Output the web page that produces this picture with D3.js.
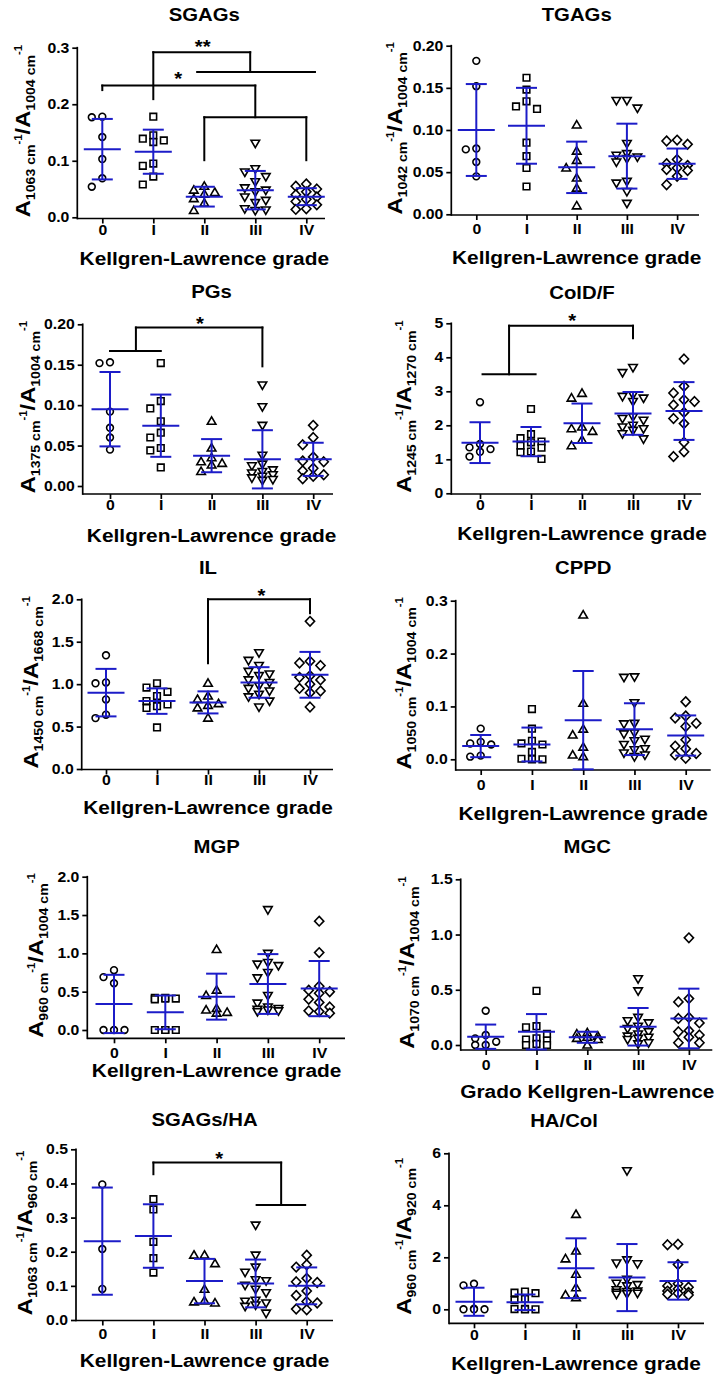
<!DOCTYPE html>
<html><head><meta charset="utf-8">
<script src="https://cdn.jsdelivr.net/npm/d3@7"></script>
<style>body{margin:0;background:#fff}svg{display:block}</style>
</head><body>
<svg id="c" width="728" height="1384"></svg>
<script>
// ---------------- DATA ----------------
const grades = ["0","I","II","III","IV"];
const xTitleEN = "Kellgren-Lawrence grade";
const xTitleES = "Grado Kellgren-Lawrence";

// SGAGs
const sgagsValues = [
  [0.178,0.177,0.142,0.103,0.069,0.054],
  [0.178,0.145,0.139,0.136,0.133,0.095,0.091,0.072,0.058],
  [0.055,0.048,0.044,0.041,0.033,0.025,0.012],
  [0.131,0.086,0.080,0.072,0.063,0.052,0.048,0.045,0.036,0.030,0.026,0.015,0.013,0.012],
  [0.059,0.055,0.050,0.045,0.040,0.036,0.032,0.028,0.022,0.015,0.014]
];
const sgagsMean = [0.1205,0.116,0.0365,0.048,0.0365];
const sgagsSD = [0.0535,0.039,0.0175,0.034,0.015];
const sgagsTicks = [0,0.1,0.2,0.3];
const sgagsTickLabels = ["0.0","0.1","0.2","0.3"];
const sgagsBrackets = [
  [1,0.292,2.9,0.292],[1,0.292,1,0.209],[2.9,0.292,2.9,0.257],[1.86,0.257,4.17,0.257],
  [0,0.233,3,0.233],[0,0.233,0,0.225],[3,0.233,3,0.177],[2,0.177,4,0.177],[2,0.177,2,0.101],[4,0.177,4,0.101]
];
const sgagsStars = [["**",1.97,0.309],["*",1.49,0.251]];

// TGAGs
const tgagsValues = [
  [0.182,0.152,0.078,0.077,0.062,0.045],
  [0.162,0.148,0.134,0.128,0.125,0.085,0.069,0.055,0.033],
  [0.106,0.075,0.064,0.055,0.043,0.031,0.010],
  [0.135,0.135,0.126,0.084,0.072,0.070,0.068,0.066,0.062,0.039,0.037,0.027,0.013],
  [0.088,0.087,0.083,0.065,0.060,0.058,0.055,0.053,0.052,0.045,0.035]
];
const tgagsMean = [0.100,0.105,0.0557,0.069,0.060];
const tgagsSD = [0.0545,0.045,0.0305,0.0385,0.018];
const tgagsTicks = [0,0.05,0.10,0.15,0.20];
const tgagsTickLabels = ["0.00","0.05","0.10","0.15","0.20"];

// PGs
const pgsValues = [
  [0.153,0.152,0.092,0.072,0.060,0.045],
  [0.152,0.105,0.096,0.080,0.066,0.060,0.047,0.044,0.023],
  [0.080,0.047,0.035,0.030,0.028,0.026,0.018],
  [0.125,0.098,0.075,0.038,0.027,0.025,0.020,0.018,0.016,0.014,0.012,0.010,0.008,0.007],
  [0.075,0.060,0.051,0.036,0.031,0.030,0.022,0.019,0.014,0.012,0.009]
];
const pgsMean = [0.095,0.0746,0.0375,0.033,0.033];
const pgsSD = [0.046,0.0385,0.0205,0.036,0.0205];
const pgsTicks = [0,0.05,0.10,0.15,0.20];
const pgsTickLabels = ["0.00","0.05","0.10","0.15","0.20"];
const pgsBrackets = [[0.51,0.196,3,0.196],[3,0.196,3,0.148],[0.51,0.196,0.51,0.167],[0,0.167,1,0.167]];
const pgsStars = [["*",1.77,0.205]];

// ColD/F
const coldfValues = [
  [2.68,1.45,1.35,1.30,1.22,1.08],
  [2.48,1.74,1.62,1.52,1.50,1.40,1.34,1.23,1.21,1.01],
  [2.94,2.80,1.95,1.90,1.82,1.57,1.40],
  [3.70,3.55,2.90,2.85,2.80,2.70,2.25,2.20,2.15,2.00,1.95,1.90,1.85,1.75,1.60],
  [3.95,3.15,2.95,2.75,2.70,2.60,2.38,2.20,2.05,1.50,1.22,1.08]
];
const coldfMean = [1.49,1.52,2.06,2.35,2.42];
const coldfSD = [0.60,0.43,0.58,0.63,0.85];
const coldfTicks = [0,1,2,3,4,5];
const coldfTickLabels = ["0","1","2","3","4","5"];
const coldfBrackets = [[0.57,4.93,3,4.93],[3,4.93,3,4.56],[0.57,4.93,0.57,3.5],[0.05,3.5,1.09,3.5]];
const coldfStars = [["*",1.81,5.19]];

// IL
const ilValues = [
  [1.34,1.02,1.01,0.82,0.64,0.60],
  [1.01,0.96,0.91,0.86,0.80,0.76,0.74,0.72,0.49],
  [1.01,0.86,0.82,0.77,0.75,0.72,0.60],
  [1.37,1.28,1.22,1.15,1.12,1.10,1.05,1.02,0.98,0.95,0.92,0.88,0.85,0.80,0.73],
  [1.74,1.27,1.25,1.22,1.10,1.08,1.05,1.00,0.95,0.92,0.90,0.73]
];
const ilMean = [0.90,0.80,0.785,1.02,1.11];
const ilSD = [0.28,0.15,0.13,0.18,0.27];
const ilTicks = [0,0.5,1.0,1.5,2.0];
const ilTickLabels = ["0.0","0.5","1.0","1.5","2.0"];
const ilBrackets = [[2,2.0,4,2.0],[2,2.0,2,1.246],[4,2.0,4,1.836]];
const ilStars = [["*",3.05,2.09]];

// CPPD
const cppdValues = [
  [0.058,0.033,0.030,0.028,0.007,0.005],
  [0.095,0.058,0.035,0.030,0.028,0.014,0.001,0.0,0.0],
  [0.273,0.106,0.057,0.046,0.023,0.008,0.005],
  [0.156,0.155,0.107,0.068,0.067,0.050,0.048,0.038,0.035,0.028,0.020,0.018,0.012,0.008,0.005],
  [0.109,0.082,0.078,0.068,0.062,0.037,0.025,0.020,0.011,0.008,0.002]
];
const cppdMean = [0.025,0.028,0.074,0.057,0.045];
const cppdSD = [0.021,0.032,0.093,0.049,0.038];
const cppdTicks = [0,0.1,0.2,0.3];
const cppdTickLabels = ["0.0","0.1","0.2","0.3"];

// MGP
const mgpValues = [
  [0.78,0.69,0.61,0,0,0],
  [0.42,0.42,0.41,0.41,0.40,0,0,0,0],
  [1.05,0.52,0.45,0.28,0.26,0.23,0.22],
  [1.57,1.00,0.88,0.86,0.84,0.75,0.68,0.45,0.35,0.30,0.28,0.27,0.26,0.25,0.24],
  [1.42,1.01,0.57,0.52,0.50,0.48,0.40,0.36,0.30,0.25,0.24,0.22]
];
const mgpMean = [0.34,0.23,0.435,0.60,0.54];
const mgpSD = [0.38,0.22,0.30,0.39,0.36];
const mgpTicks = [0,0.5,1.0,1.5,2.0];
const mgpTickLabels = ["0.0","0.5","1.0","1.5","2.0"];

// MGC
const mgcValues = [
  [0.31,0.09,0.06,0.03,0.0,0.0],
  [0.49,0.17,0.16,0.10,0.06,0.05,0.04,0.01,0.0,0.0],
  [0.11,0.10,0.08,0.07,0.06,0.05,0.0],
  [0.60,0.49,0.25,0.22,0.20,0.17,0.15,0.12,0.10,0.08,0.07,0.06,0.05,0.02,0.01],
  [0.97,0.42,0.39,0.25,0.24,0.20,0.13,0.12,0.09,0.07,0.02,0.02]
];
const mgcMean = [0.075,0.12,0.07,0.165,0.24];
const mgcSD = [0.11,0.16,0.05,0.17,0.27];
const mgcTicks = [0,0.5,1.0,1.5];
const mgcTickLabels = ["0.0","0.5","1.0","1.5"];

// SGAGs/HA
const shaValues = [
  [0.397,0.208,0.091],
  [0.354,0.324,0.229,0.181,0.139],
  [0.190,0.190,0.165,0.090,0.056,0.053,0.050],
  [0.278,0.190,0.155,0.140,0.118,0.115,0.102,0.090,0.080,0.058,0.055,0.050,0.044,0.040,0.020],
  [0.190,0.162,0.155,0.122,0.112,0.110,0.085,0.072,0.054,0.050,0.032,0.030]
];
const shaMean = [0.231,0.246,0.114,0.107,0.100];
const shaSD = [0.157,0.093,0.065,0.070,0.054];
const shaTicks = [0,0.1,0.2,0.3,0.4,0.5];
const shaTickLabels = ["0.0","0.1","0.2","0.3","0.4","0.5"];
const shaBrackets = [[1,0.461,3.5,0.461],[1,0.461,1,0.427],[3.5,0.461,3.5,0.337],[3.02,0.337,3.97,0.337]];
const shaStars = [["*",2.29,0.484]];

// HA/Col
const hacolValues = [
  [0.98,0.92,0.02,0.0,0.0,0.0],
  [0.68,0.64,0.62,0.40,0.35,0.02,0.01,0.0,0.0],
  [3.65,2.24,1.94,1.35,0.83,0.55,0.45],
  [5.33,1.90,1.78,1.75,1.15,1.00,0.95,0.90,0.75,0.70,0.68,0.65,0.62,0.60,0.58],
  [2.50,2.48,1.72,0.98,0.90,0.85,0.78,0.70,0.65,0.62,0.58,0.55]
];
const hacolMean = [0.29,0.27,1.58,1.22,1.09];
const hacolSD = [0.54,0.30,1.15,1.29,0.72];
const hacolTicks = [0,2,4,6];
const hacolTickLabels = ["0","2","4","6"];

// ---------------- LAYOUT ----------------
const panels = [
  {title:"SGAGs", vals:sgagsValues, mean:sgagsMean, sd:sgagsSD, ticks:sgagsTicks, labels:sgagsTickLabels, sub:["1063","1004"], xt:xTitleEN, br:sgagsBrackets, st:sgagsStars,
   L:{axisX:77.3,yTop:47.7,yZero:217.3,xAxisY:218.5,cat0:102.3,step:51,xEnd:325,titleY:15,xlabY:258,xtickY:230,ytOff:47}},
  {title:"TGAGs", vals:tgagsValues, mean:tgagsMean, sd:tgagsSD, ticks:tgagsTicks, labels:tgagsTickLabels, sub:["1042","1004"], xt:xTitleEN, br:[], st:[],
   L:{axisX:451.3,yTop:45.7,yZero:214.3,xAxisY:215,cat0:476.3,step:50.2,xEnd:699,titleY:15,xlabY:257,xtickY:229,ytOff:49}},
  {title:"PGs", vals:pgsValues, mean:pgsMean, sd:pgsSD, ticks:pgsTicks, labels:pgsTickLabels, sub:["1375","1004"], xt:xTitleEN, br:pgsBrackets, st:pgsStars,
   L:{axisX:82.7,yTop:324.3,yZero:486,xAxisY:494,cat0:110,step:50.8,xEnd:333,titleY:292,xlabY:535,xtickY:505,ytOff:47.7}},
  {title:"ColD/F", vals:coldfValues, mean:coldfMean, sd:coldfSD, ticks:coldfTicks, labels:coldfTickLabels, sub:["1245","1270"], xt:xTitleEN, br:coldfBrackets, st:coldfStars,
   L:{axisX:451.3,yTop:323.3,yZero:493.3,xAxisY:494,cat0:480,step:51,xEnd:701,titleY:293,xlabY:533,xtickY:505,ytOff:40.6}},
  {title:"IL", vals:ilValues, mean:ilMean, sd:ilSD, ticks:ilTicks, labels:ilTickLabels, sub:["1450","1668"], xt:xTitleEN, br:ilBrackets, st:ilStars,
   L:{axisX:81.7,yTop:599.3,yZero:769,xAxisY:769.5,cat0:106,step:51,xEnd:333,titleY:568,xlabY:807,xtickY:780,ytOff:43.4}},
  {title:"CPPD", vals:cppdValues, mean:cppdMean, sd:cppdSD, ticks:cppdTicks, labels:cppdTickLabels, sub:["1050","1004"], xt:xTitleEN, br:[], st:[],
   L:{axisX:455.7,yTop:600.7,yZero:759.3,xAxisY:770,cat0:480.7,step:51.25,xEnd:710.7,titleY:568,xlabY:813,xtickY:785,ytOff:45}},
  {title:"MGP", vals:mgpValues, mean:mgpMean, sd:mgpSD, ticks:mgpTicks, labels:mgpTickLabels, sub:["960","1004"], xt:xTitleEN, br:[], st:[],
   L:{axisX:87.3,yTop:876.7,yZero:1030,xAxisY:1038.3,cat0:114,step:51.3,xEnd:345,titleY:846.7,xlabY:1070,xtickY:1053,ytOff:44}},
  {title:"MGC", vals:mgcValues, mean:mgcMean, sd:mgcSD, ticks:mgcTicks, labels:mgcTickLabels, sub:["1070","1004"], xt:xTitleES, br:[], st:[],
   L:{axisX:460.7,yTop:879.3,yZero:1045,xAxisY:1050,cat0:485.7,step:50.8,xEnd:712.3,titleY:846.7,xlabY:1091.7,xtickY:1065,ytOff:46.7}},
  {title:"SGAGs/HA", vals:shaValues, mean:shaMean, sd:shaSD, ticks:shaTicks, labels:shaTickLabels, sub:["1063","960"], xt:xTitleEN, br:shaBrackets, st:shaStars,
   L:{axisX:76,yTop:1149.3,yZero:1320,xAxisY:1320.5,cat0:102.3,step:51.1,xEnd:333,titleY:1120,xlabY:1360,xtickY:1334,ytOff:44.3}},
  {title:"HA/Col", vals:hacolValues, mean:hacolMean, sd:hacolSD, ticks:hacolTicks, labels:hacolTickLabels, sub:["960","920"], xt:xTitleEN, br:[], st:[],
   L:{axisX:449,yTop:1153.3,yZero:1309.3,xAxisY:1323.3,cat0:474,step:51,xEnd:704,titleY:1121,xlabY:1363,xtickY:1335,ytOff:38.3,titleX:564}}
];

// ---------------- DRAW ----------------
const svg = d3.select("#c");
const SX = 1.13;
const FONT = "'Liberation Sans', Arial, Helvetica, sans-serif";
const BLUE = "#1c1cc8";
const AXW = 1.7;

const shapePaths = [
  "M3.4,0A3.4,3.4 0 1,1 -3.4,0A3.4,3.4 0 1,1 3.4,0Z",
  "M-3.3,-3.3H3.3V3.3H-3.3Z",
  "M0,-4.4L4.3,3.0L-4.3,3.0Z",
  "M0,4.4L4.3,-3.0L-4.3,-3.0Z",
  "M0,-4.8L4.6,0L0,4.8L-4.6,0Z"
];

// Prism-like column scatter: at most three columns, overlap when crowded
function swarm(vals, y, step, thr) {
  const placed = [];
  const cands = [0, -step, step];
  return vals.map(v => {
    const py = y(v);
    let best = 0, bestD = -1;
    for (const o of cands) {
      const same = placed.filter(p => Math.abs(p.dx - o) < thr);
      const dmin = same.length ? d3.min(same, p => Math.abs(p.py - py)) : Infinity;
      if (dmin >= thr) { best = o; break; }
      if (dmin > bestD) { bestD = dmin; best = o; }
    }
    placed.push({dx: best, py});
    return {v, dx: best};
  });
}

panels.forEach(p => {
  const L = p.L;
  const g = svg.append("g");
  const y = d3.scaleLinear().domain([0, d3.max(p.ticks)]).range([L.yZero, L.yTop]);
  const x = d3.scaleLinear().domain([0, 4]).range([L.cat0, L.cat0 + 4 * L.step]);
  const cx = x(2);

  // Y axis
  const ya = g.append("g").attr("transform", `translate(${L.axisX},0)`)
    .call(d3.axisLeft(y).tickValues(p.ticks).tickFormat((d, i) => p.labels[i]).tickSize(5).tickPadding(2).tickSizeOuter(0));
  ya.select(".domain").remove();
  ya.selectAll("line").attr("stroke", "#000").attr("stroke-width", AXW);
  ya.selectAll("text").attr("transform", `scale(${SX},1)`).attr("font-size", 14).attr("font-weight", "bold")
    .attr("font-family", FONT).attr("fill", "#000");
  g.append("line").attr("x1", L.axisX).attr("x2", L.axisX).attr("y1", L.yTop - AXW / 2).attr("y2", L.xAxisY + AXW / 2)
    .attr("stroke", "#000").attr("stroke-width", AXW);

  // X axis
  const pad = L.xtickY - L.xAxisY - 9.9;
  const xa = g.append("g").attr("transform", `translate(0,${L.xAxisY})`)
    .call(d3.axisBottom(x).tickValues([0, 1, 2, 3, 4]).tickFormat(i => grades[i]).tickSize(5).tickPadding(pad).tickSizeOuter(0));
  xa.select(".domain").remove();
  xa.selectAll("line").attr("stroke", "#000").attr("stroke-width", AXW);
  xa.selectAll("text").attr("transform", `scale(${SX},1)`).attr("font-size", 14).attr("font-weight", "bold")
    .attr("font-family", FONT).attr("fill", "#000");
  g.append("line").attr("x1", L.axisX).attr("x2", L.xEnd).attr("y1", L.xAxisY).attr("y2", L.xAxisY)
    .attr("stroke", "#000").attr("stroke-width", AXW);

  // Title
  g.append("text").attr("transform", `translate(${L.titleX || cx},${L.titleY}) scale(${SX},1)`)
    .attr("text-anchor", "middle").attr("dy", "0.36em").attr("font-family", FONT).attr("font-weight", "bold")
    .attr("font-size", 18).text(p.title);

  // X title
  g.append("text").attr("transform", `translate(${cx},${L.xlabY}) scale(${SX},1)`)
    .attr("text-anchor", "middle").attr("dy", "0.36em").attr("font-family", FONT).attr("font-weight", "bold")
    .attr("font-size", 18.5).text(p.xt);

  // Y title
  const yc = (L.yTop + L.xAxisY) / 2 - 2;
  const yt = g.append("text").attr("transform", `translate(${L.axisX - L.ytOff},${yc}) rotate(-90) scale(${SX},1)`)
    .attr("text-anchor", "middle").attr("font-family", FONT).attr("font-weight", "bold");
  yt.append("tspan").attr("font-size", 21).text("A");
  yt.append("tspan").attr("font-size", 12.5).attr("dy", 5).text(p.sub[0] + " cm");
  yt.append("tspan").attr("font-size", 10).attr("dy", -13).text("-1");
  yt.append("tspan").attr("font-size", 21).attr("dy", 8).text("/A");
  yt.append("tspan").attr("font-size", 12.5).attr("dy", 5).text(p.sub[1] + " cm");
  yt.append("tspan").attr("font-size", 10).attr("dy", -13).text("-1");

  // Points
  p.vals.forEach((vals, gi) => {
    const pts = swarm(vals, y, 10.5, 8.6);
    g.append("g").selectAll("path").data(pts).join("path")
      .attr("d", shapePaths[gi])
      .attr("transform", d => `translate(${x(gi) + d.dx},${y(d.v)})`)
      .attr("fill", "#fff").attr("stroke", "#000").attr("stroke-width", 1.6);
  });

  // Mean ± SD
  const eb = g.append("g").attr("stroke", BLUE).attr("stroke-width", 2).attr("fill", "none");
  p.mean.forEach((m, gi) => {
    const s = p.sd[gi], xc = x(gi);
    eb.append("line").attr("x1", xc).attr("x2", xc).attr("y1", y(m - s)).attr("y2", y(m + s));
    eb.append("line").attr("x1", xc - 10.5).attr("x2", xc + 10.5).attr("y1", y(m + s)).attr("y2", y(m + s));
    eb.append("line").attr("x1", xc - 10.5).attr("x2", xc + 10.5).attr("y1", y(m - s)).attr("y2", y(m - s));
    eb.append("line").attr("x1", xc - 18.5).attr("x2", xc + 18.5).attr("y1", y(m)).attr("y2", y(m));
  });

  // Significance brackets
  const bg = g.append("g").attr("stroke", "#000").attr("stroke-width", 2).attr("stroke-linecap", "square");
  bg.selectAll("line").data(p.br).join("line")
    .attr("x1", d => x(d[0])).attr("y1", d => y(d[1])).attr("x2", d => x(d[2])).attr("y2", d => y(d[3]));
  g.selectAll("text.star").data(p.st).join("text").attr("class", "star")
    .attr("transform", d => `translate(${x(d[1])},${y(d[2]) + 10}) scale(${SX},1)`)
    .attr("text-anchor", "middle").attr("font-family", FONT).attr("font-weight", "bold").attr("font-size", 18)
    .text(d => d[0]);
});
</script>
</body></html>
